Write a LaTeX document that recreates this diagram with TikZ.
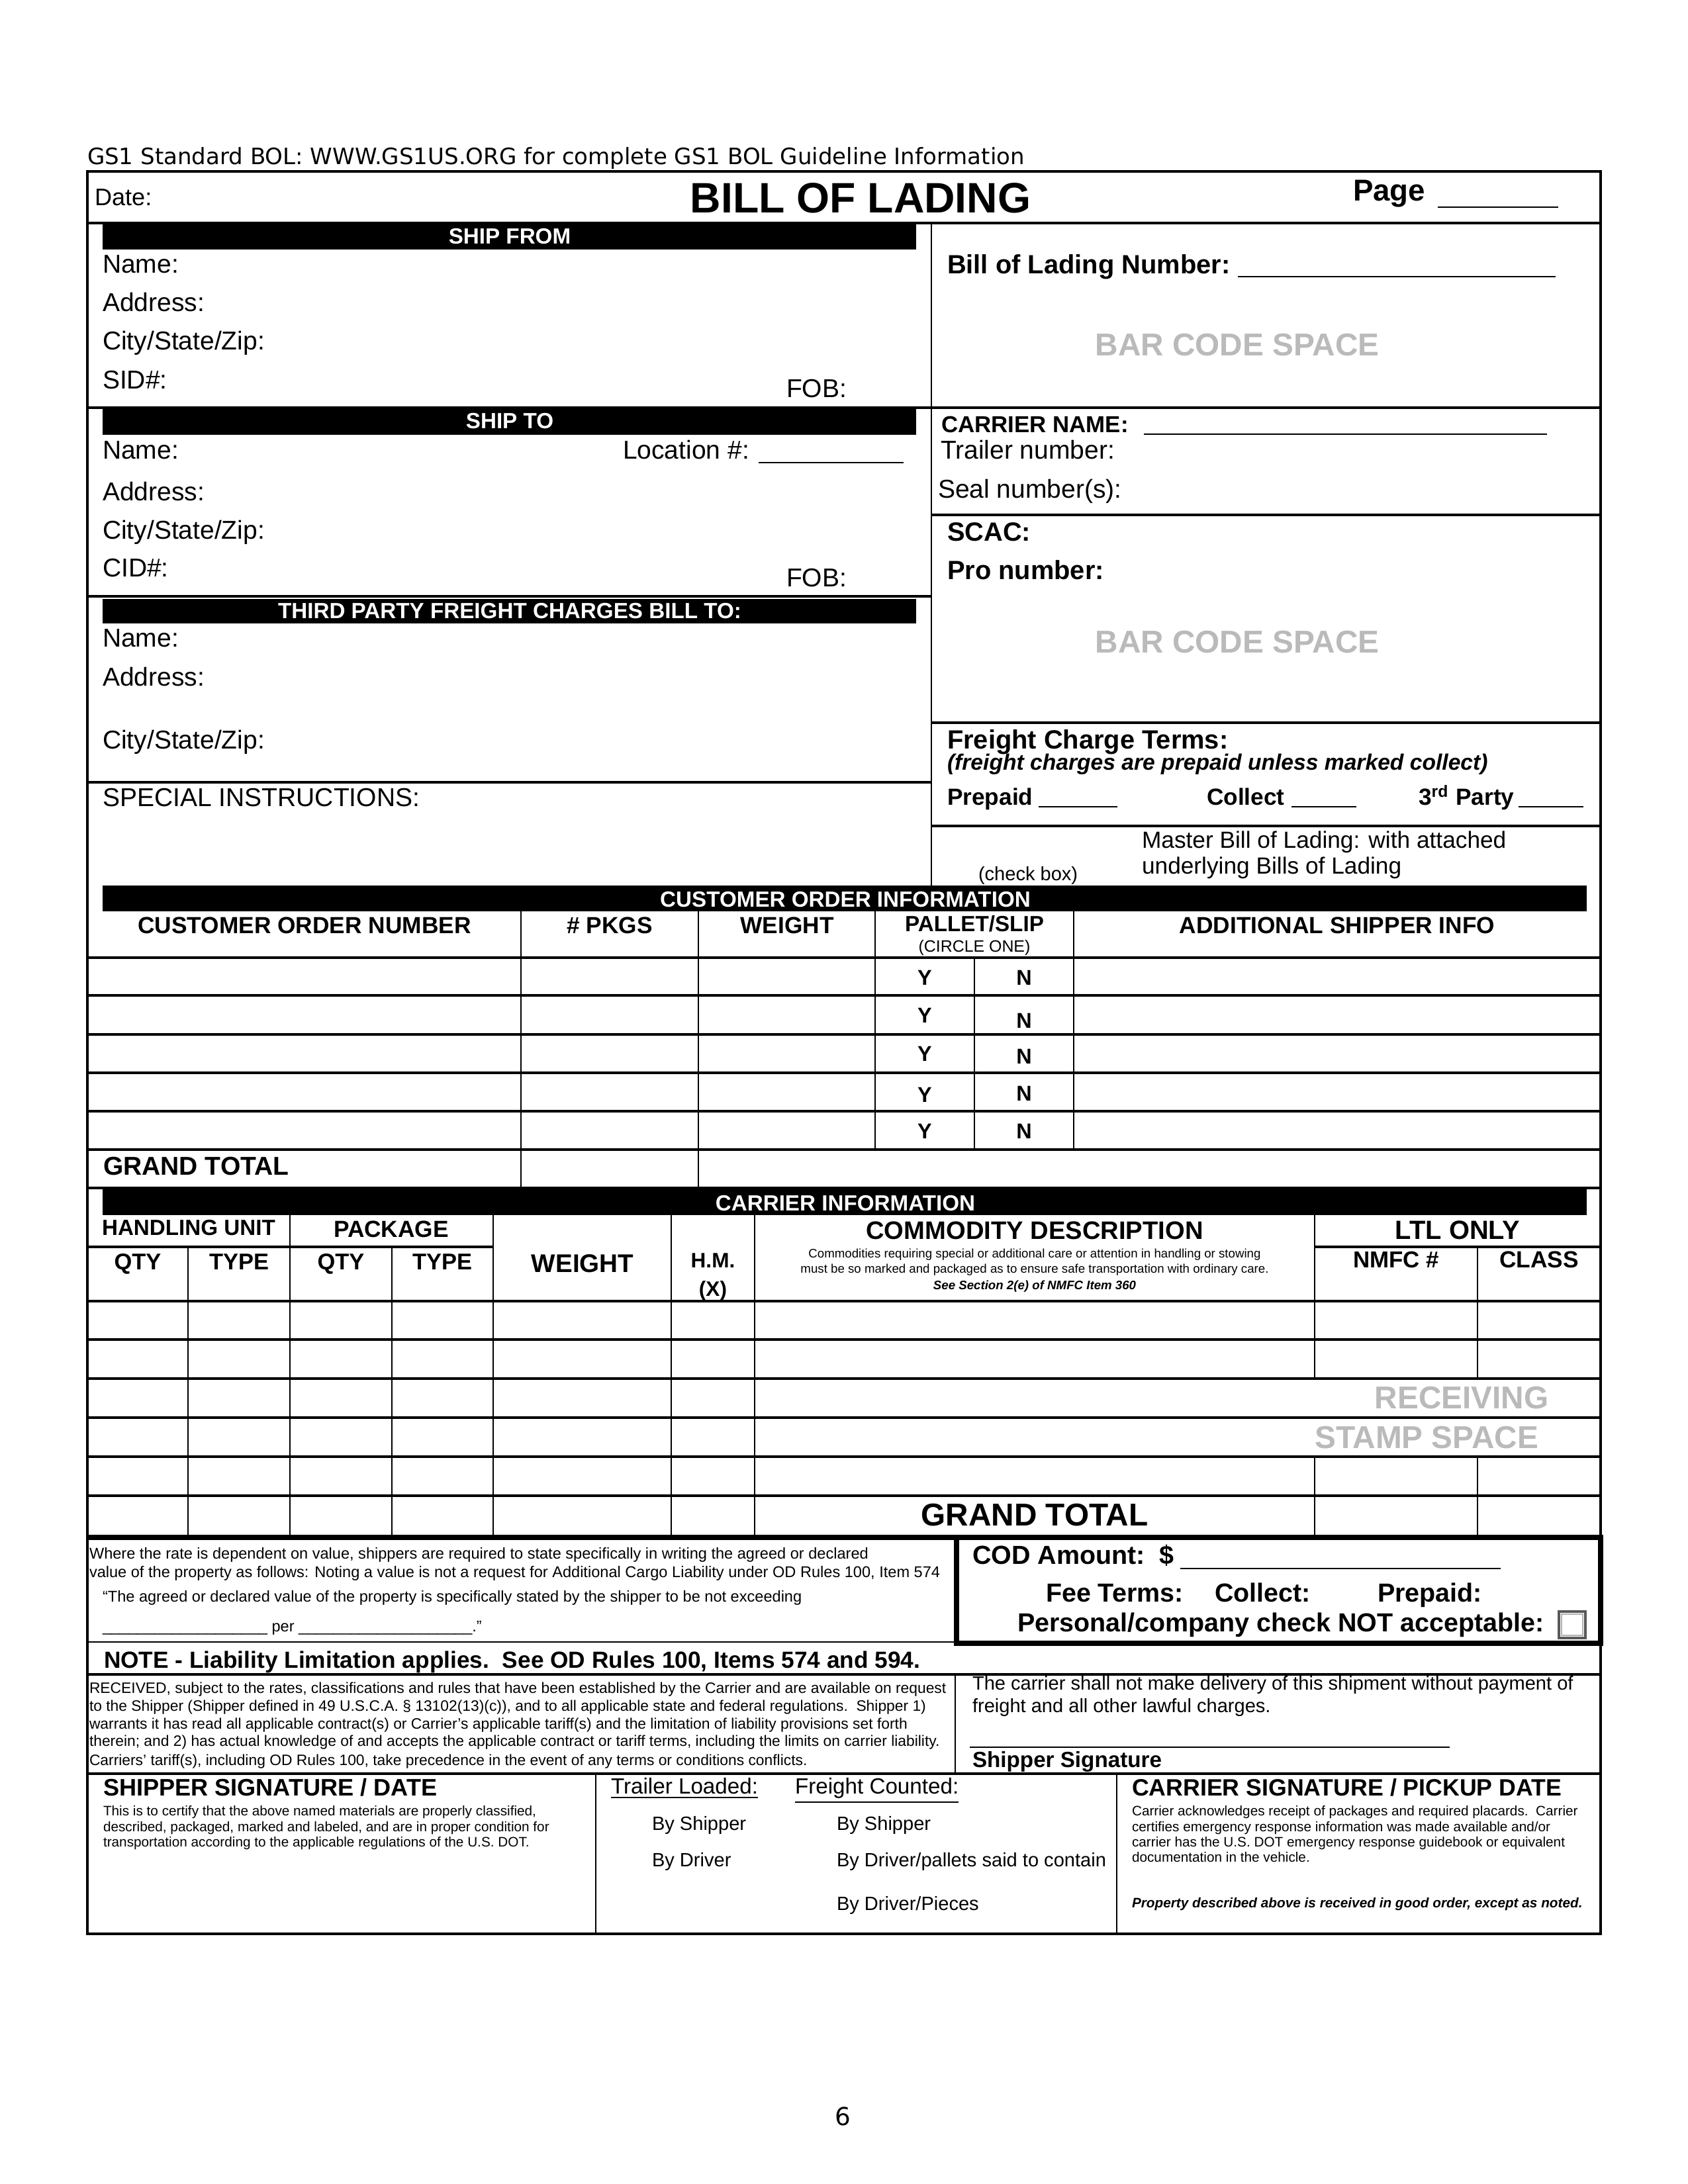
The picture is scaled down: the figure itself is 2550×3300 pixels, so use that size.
\documentclass[tikz,border=0pt]{standalone}
\usepackage{fontspec}
\setmainfont{Liberation Sans}
\newfontfamily\verd{DejaVu Sans}
\newcommand\fz[1]{\fontsize{#1}{#1}\selectfont}
\begin{document}
\begin{tikzpicture}[x=0.2409pt,y=-0.2409pt,
  every node/.style={inner sep=0pt,outer sep=0pt},
  lft/.style={anchor=base west},
  ctr/.style={anchor=base},
  rg/.style={font=\fz{9.4}},
  bd/.style={font=\fz{9.6}\bfseries},
  bs/.style={font=\fz{8.5}\bfseries},
  hd/.style={anchor=base,font=\fz{8.5}\bfseries},
  bartxt/.style={anchor=base,text=white,font=\fz{8}\bfseries},
  ghost/.style={anchor=base,text=black!27,font=\fz{11.5}\bfseries},
  frame/.style={line width=0.75pt},
  hl/.style={line width=0.8pt},
  vl/.style={line width=0.5pt},
  ul/.style={line width=0.7pt},
  heavy/.style={line width=2.1pt},
  tiny/.style={anchor=base west,font=\fz{5.68}},
]
\useasboundingbox (0,0) rectangle (2550,3300);
\fill[white] (0,0) rectangle (2550,3300);

% header
\node[lft,font=\verd\fz{8.2}] (hdr) at (132,248) {GS1 Standard BOL: WWW.GS1US.ORG for complete GS1 BOL Guideline Information};

% frame
\draw[frame] (132,259) rectangle (2418,2922);

% date row
\node[lft,font=\fz{8.7}] (date) at (143,310) {Date:};
\node[ctr,font=\fz{15.5}\bfseries] (title) at (1300,321) {BILL OF LADING};
\node[lft,font=\fz{11}\bfseries] (page) at (2044,303) {Page};
\draw[ul] (2172,313) -- (2354,313);
\draw[hl] (132,337) -- (2418,337);
\draw[vl] (1407,337) -- (1407,1338);

% ship from
\fill (155,339) rectangle (1384,377);
\node[bartxt] (sf) at (770,368) {SHIP FROM};
\node[lft,rg] (sfn) at (155,412) {Name:};
\node[lft,rg] (sfa) at (155,470) {Address:};
\node[lft,rg] (sfc) at (155,528) {City/State/Zip:};
\node[lft,rg] (sfs) at (155,587) {SID\#:};
\node[lft,rg] (sff) at (1188,600) {FOB:};
\draw[hl] (132,616) -- (2418,616);

% ship to
\fill (155,618) rectangle (1384,657);
\node[bartxt] (st) at (770,647) {SHIP TO};
\node[lft,rg] (stn) at (155,693) {Name:};
\node[lft,rg] (stl) at (941,693) {Location \#:};
\draw[ul] (1146,699) -- (1365,699);
\node[lft,rg] (sta) at (155,756) {Address:};
\node[lft,rg] (stc) at (155,814) {City/State/Zip:};
\node[lft,rg] (sti) at (155,871) {CID\#:};
\node[lft,rg] (stf) at (1188,886) {FOB:};
\draw[hl] (132,901) -- (1407,901);

% third party
\fill (155,905) rectangle (1384,942);
\node[bartxt] (tp) at (770,934) {THIRD PARTY FREIGHT CHARGES BILL TO:};
\node[lft,rg] (tpn) at (155,977) {Name:};
\node[lft,rg] (tpa) at (155,1036) {Address:};
\node[lft,rg] (tpc) at (155,1131) {City/State/Zip:};
\draw[hl] (132,1182) -- (1407,1182);
\node[lft,rg] (si) at (155,1218) {SPECIAL INSTRUCTIONS:};

% right column
\node[lft,bd] (bln) at (1431,413) {Bill of Lading Number:};
\draw[ul] (1870,418) -- (2350,418);
\node[ghost] (bc1) at (1869,537) {BAR CODE SPACE};
\node[lft,font=\fz{8.4}\bfseries] (cn) at (1422,653) {CARRIER NAME:};
\draw[ul] (1728,656) -- (2337,656);
\node[lft,rg] (tn) at (1421,693) {Trailer number:};
\node[lft,rg] (sn) at (1417,752) {Seal number(s):};
\draw[hl] (1407,778) -- (2418,778);
\node[lft,bd] (scac) at (1431,817) {SCAC:};
\node[lft,bd] (pro) at (1431,875) {Pro number:};
\node[ghost] (bc2) at (1869,986) {BAR CODE SPACE};
\draw[hl] (1407,1092) -- (2418,1092);
\node[lft,bd] (fct) at (1431,1131) {Freight Charge Terms:};
\node[lft,font=\fz{8.1}\bfseries\itshape] (fcp) at (1431,1163) {(freight charges are prepaid unless marked collect)};
\node[lft,bs] (pp) at (1431,1216) {Prepaid};
\draw[ul] (1569,1219) -- (1688,1219);
\node[lft,bs] (col) at (1823,1216) {Collect};
\draw[ul] (1951,1219) -- (2049,1219);
\node[lft,bs] (tpy) at (2143,1216) {3\textsuperscript{rd} Party};
\draw[ul] (2294,1219) -- (2392,1219);
\draw[hl] (1407,1248) -- (2418,1248);
\node[lft,font=\fz{8.5}] (mb1) at (1725,1281) {Master Bill of Lading: with attached};
\node[lft,font=\fz{8.5}] (mb2) at (1725,1320) {underlying Bills of Lading};
\node[lft,font=\fz{7}] (cbx) at (1478,1330) {(check box)};

% customer order information
\fill (155,1338) rectangle (2397,1377);
\node[bartxt] (coi) at (1277,1370) {CUSTOMER ORDER INFORMATION};
\node[hd] (con) at (460,1410) {CUSTOMER ORDER NUMBER};
\node[hd] (pkg) at (921,1410) {\# PKGS};
\node[hd] (wgt) at (1189,1410) {WEIGHT};
\node[hd,font=\fz{8}\bfseries] (pal) at (1472,1407) {PALLET/SLIP};
\node[ctr,font=\fz{6}] (cir) at (1472,1438) {(CIRCLE ONE)};
\node[hd] (asi) at (2020,1410) {ADDITIONAL SHIPPER INFO};
\foreach \yy in {1447,1504,1563,1621,1679,1737,1795} \draw[hl] (132,\yy) -- (2418,\yy);
\foreach \xx in {787,1055} \draw[vl] (\xx,1377) -- (\xx,1795);
\foreach \xx in {1322,1622} \draw[vl] (\xx,1377) -- (\xx,1737);
\draw[vl] (1472,1447) -- (1472,1737);
\foreach \i/\ya/\yb in {1/1488/1488,2/1545/1553,3/1603/1607,4/1665/1663,5/1720/1720} {
  \node[ctr,font=\fz{7.8}\bfseries] (y\i) at (1397,\ya) {Y};
  \node[ctr,font=\fz{7.8}\bfseries] (n\i) at (1547,\yb) {N};
}
\node[lft,font=\fz{9.4}\bfseries] (gt1) at (156,1775) {GRAND TOTAL};

% carrier information
\fill (155,1797) rectangle (2397,1836);
\node[bartxt] (cri) at (1277,1829) {CARRIER INFORMATION};
\node[ctr,font=\fz{8}\bfseries] (hu) at (285,1866) {HANDLING UNIT};
\node[ctr,font=\fz{8.5}\bfseries] (pk) at (591,1869) {PACKAGE};
\draw[hl] (132,1884) -- (745,1884);
\draw[hl] (1986,1884) -- (2418,1884);
\node[ctr,font=\fz{8.3}\bfseries] (q1) at (208,1918) {QTY};
\node[ctr,font=\fz{8.3}\bfseries] (t1) at (361,1918) {TYPE};
\node[ctr,font=\fz{8.3}\bfseries] (q2) at (515,1918) {QTY};
\node[ctr,font=\fz{8.3}\bfseries] (t2) at (668,1918) {TYPE};
\node[ctr,font=\fz{9.3}\bfseries] (w2) at (880,1922) {WEIGHT};
\node[ctr,font=\fz{7.6}\bfseries] (hm) at (1077,1915) {H.M.};
\node[ctr,font=\fz{7.6}\bfseries] (hx) at (1077,1958) {(X)};
\node[ctr,font=\fz{9.2}\bfseries] (cd) at (1563,1872) {COMMODITY DESCRIPTION};
\node[ctr,font=\fz{4.5}] (cd1) at (1563,1900) {Commodities requiring special or additional care or attention in handling or stowing};
\node[ctr,font=\fz{4.5}] (cd2) at (1563,1923) {must be so marked and packaged as to ensure safe transportation with ordinary care.};
\node[ctr,font=\fz{4.5}\bfseries\itshape] (cd3) at (1563,1948) {See Section 2(e) of NMFC Item 360};
\node[ctr,font=\fz{9.6}\bfseries] (ltl) at (2202,1872) {LTL ONLY};
\node[ctr,font=\fz{8.4}\bfseries] (nm) at (2109,1915) {NMFC \#};
\node[ctr,font=\fz{8.5}\bfseries] (cl) at (2325,1915) {CLASS};
\foreach \yy in {1966,2024,2083,2142,2201,2260} \draw[hl] (132,\yy) -- (2418,\yy);
\foreach \xx in {284,592} \draw[vl] (\xx,1884) -- (\xx,2323);
\foreach \xx in {438,745,1014,1140} \draw[vl] (\xx,1836) -- (\xx,2323);
\draw[vl] (1986,1836) -- (1986,2083);
\draw[vl] (1986,2201) -- (1986,2323);
\draw[vl] (2232,1884) -- (2232,2083);
\draw[vl] (2232,2201) -- (2232,2323);
\node[ghost] (rcv) at (2208,2128) {RECEIVING};
\node[ghost] (stp) at (2155,2188) {STAMP SPACE};
\node[ctr,font=\fz{11.5}\bfseries] (gt2) at (1563,2305) {GRAND TOTAL};
\draw[heavy] (132,2323) -- (2418,2323);

% declared value
\node[tiny] (dv1) at (135,2355) {Where the rate is dependent on value, shippers are required to state specifically in writing the agreed or declared};
\node[tiny] (dv2) at (135,2383) {value of the property as follows: Noting a value is not a request for Additional Cargo Liability under OD Rules 100, Item 574};
\node[tiny] (dv3) at (155,2420) {“The agreed or declared value of the property is specifically stated by the shipper to be not exceeding};
\node[tiny] (dv4) at (155,2465) {\_\_\_\_\_\_\_\_\_\_\_\_\_\_\_\_\_\_\_ per \_\_\_\_\_\_\_\_\_\_\_\_\_\_\_\_\_\_\_\_.”};
\draw[vl] (132,2481) -- (1445,2481);

% COD box
\draw[heavy] (1445,2323) rectangle (2418,2483);
\node[lft,font=\fz{9.5}\bfseries] (cod) at (1469,2363) {COD Amount:\ \ \$};
\draw[ul] (1783,2370) -- (2267,2370);
\node[lft,font=\fz{9.5}\bfseries] (fee) at (1580,2420) {Fee Terms:};
\node[lft,font=\fz{9.5}\bfseries] (fcl) at (1835,2420) {Collect:};
\node[lft,font=\fz{9.5}\bfseries] (fpp) at (2081,2420) {Prepaid:};
\node[lft,font=\fz{9.5}\bfseries] (pcn) at (1537,2465) {Personal/company check NOT acceptable:};
\draw[draw=black!65,line width=1pt] (2355,2435) rectangle (2395,2475);
\draw[draw=black!30,line width=0.6pt] (2359,2439) rectangle (2391,2471);

% note
\node[lft,font=\fz{8.5}\bfseries] (note) at (157,2520) {NOTE - Liability Limitation applies.\ \ See OD Rules 100, Items 574 and 594.};
\draw[hl] (132,2530) -- (2418,2530);

% received
\node[lft,font=\fz{5.5}] (r1) at (135,2558) {RECEIVED, subject to the rates, classifications and rules that have been established by the Carrier and are available on request};
\node[lft,font=\fz{5.5}] (r2) at (135,2585) {to the Shipper (Shipper defined in 49 U.S.C.A. § 13102(13)(c)), and to all applicable state and federal regulations.\ \ Shipper 1)};
\node[lft,font=\fz{5.5}] (r3) at (135,2612) {warrants it has read all applicable contract(s) or Carrier’s applicable tariff(s) and the limitation of liability provisions set forth};
\node[lft,font=\fz{5.5}] (r4) at (135,2638) {therein; and 2) has actual knowledge of and accepts the applicable contract or tariff terms, including the limits on carrier liability.};
\node[lft,font=\fz{5.5}] (r5) at (135,2667) {Carriers’ tariff(s), including OD Rules 100, take precedence in the event of any terms or conditions conflicts.};
\draw[vl] (1443,2530) -- (1443,2680);
\node[lft,font=\fz{7}] (cs1) at (1469,2553) {The carrier shall not make delivery of this shipment without payment of};
\node[lft,font=\fz{7}] (cs2) at (1469,2587) {freight and all other lawful charges.};
\draw[vl] (1465,2640) -- (2190,2640);
\node[lft,font=\fz{8}\bfseries] (ssg) at (1469,2670) {Shipper Signature};
\draw[hl] (132,2680) -- (2418,2680);

% signatures
\draw[vl] (900,2680) -- (900,2922);
\draw[vl] (1687,2680) -- (1687,2922);
\node[lft,font=\fz{8.7}\bfseries] (ssd) at (156,2713) {SHIPPER SIGNATURE / DATE};
\node[lft,font=\fz{5}] (c1) at (156,2743) {This is to certify that the above named materials are properly classified,};
\node[lft,font=\fz{5}] (c2) at (156,2767) {described, packaged, marked and labeled, and are in proper condition for};
\node[lft,font=\fz{5}] (c3) at (156,2790) {transportation according to the applicable regulations of the U.S. DOT.};
\node[lft,font=\fz{8}] (tl) at (923,2710) {\underline{Trailer Loaded:}};
\node[lft,font=\fz{7}] (tl1) at (985,2765) {By Shipper};
\node[lft,font=\fz{7}] (tl2) at (985,2820) {By Driver};
\node[lft,font=\fz{8}] (fc) at (1201,2710) {\underline{Freight Counted:}};
\node[lft,font=\fz{7}] (fc1) at (1264,2765) {By Shipper};
\node[lft,font=\fz{7}] (fc2) at (1264,2820) {By Driver/pallets said to contain};
\node[lft,font=\fz{7}] (fc3) at (1264,2886) {By Driver/Pieces};
\node[lft,font=\fz{8.6}\bfseries] (csd) at (1710,2713) {CARRIER SIGNATURE / PICKUP DATE};
\node[lft,font=\fz{5}] (a1) at (1710,2743) {Carrier acknowledges receipt of packages and required placards.\ \ Carrier};
\node[lft,font=\fz{5}] (a2) at (1710,2767) {certifies emergency response information was made available and/or};
\node[lft,font=\fz{5}] (a3) at (1710,2790) {carrier has the U.S. DOT emergency response guidebook or equivalent};
\node[lft,font=\fz{5}] (a4) at (1710,2813) {documentation in the vehicle.};
\node[lft,font=\fz{5}\bfseries\itshape] (prop) at (1710,2882) {Property described above is received in good order, except as noted.};

% page number
\node[ctr,font=\verd\fz{9}] (pgn) at (1273,3211) {6};
\end{tikzpicture}
\end{document}
